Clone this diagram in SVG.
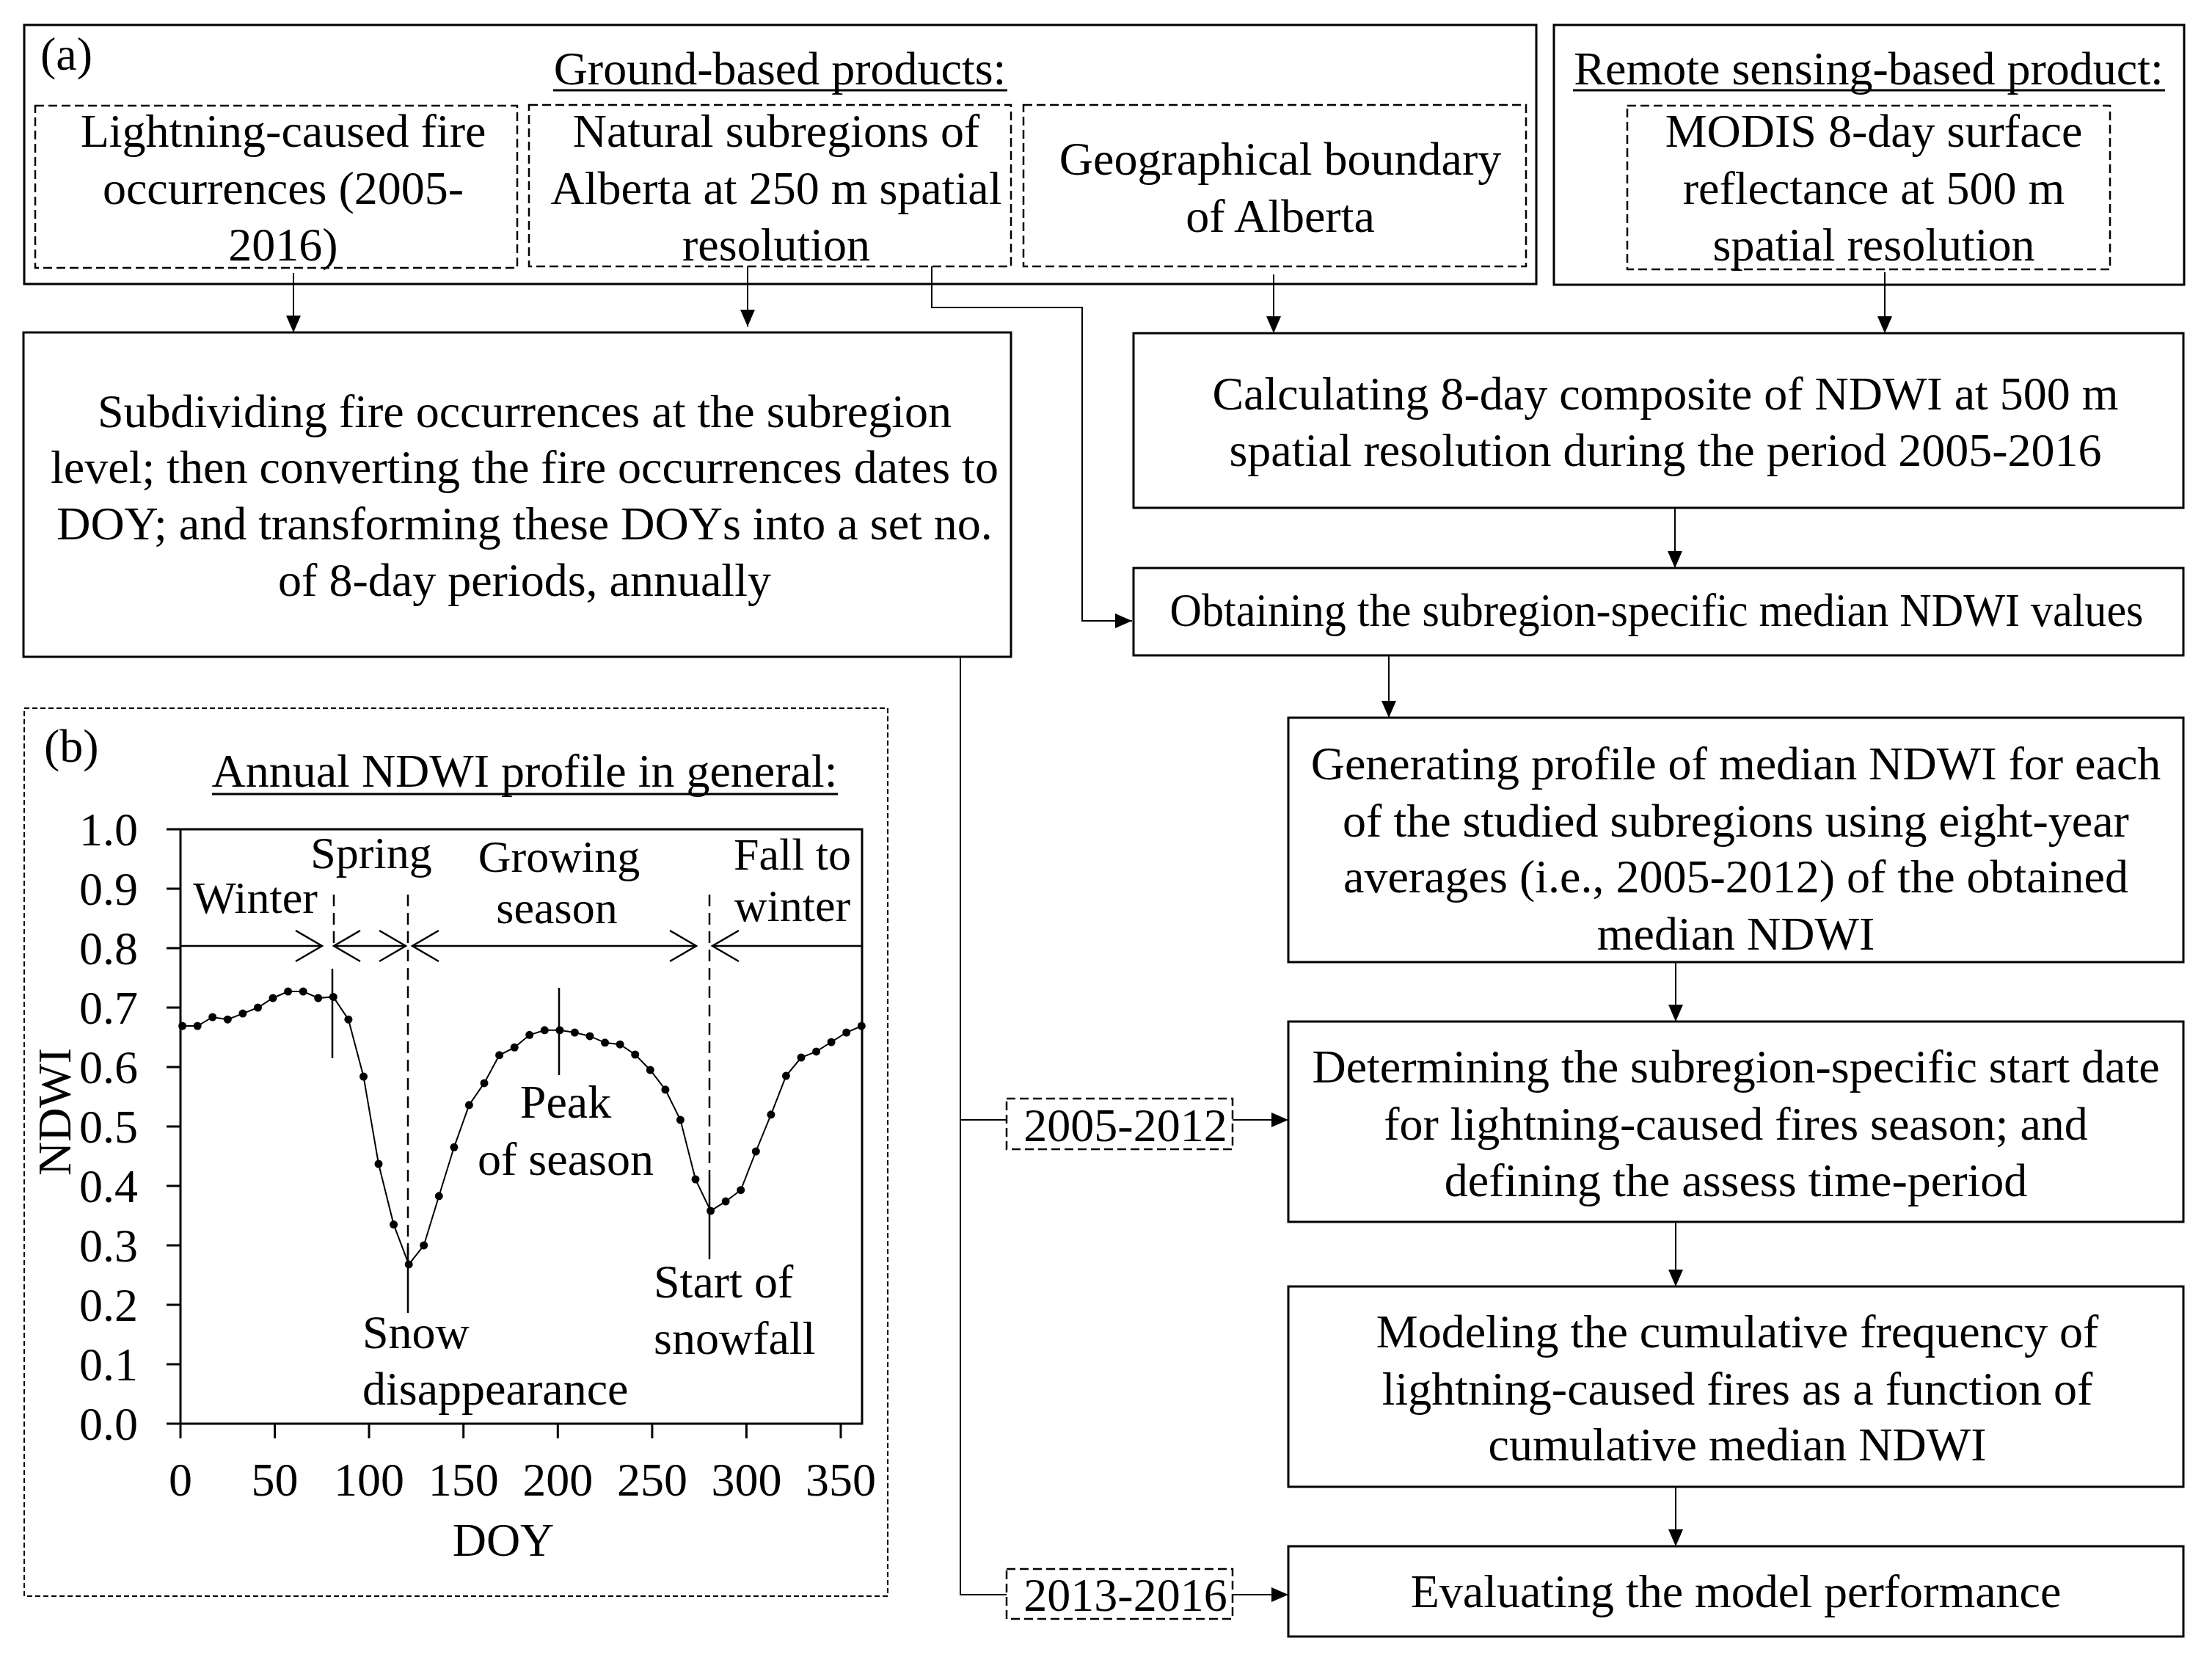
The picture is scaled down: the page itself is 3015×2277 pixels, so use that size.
<svg xmlns="http://www.w3.org/2000/svg" width="3015" height="2277" viewBox="0 0 3015 2277">
<style>
.box{fill:none;stroke:#000;stroke-width:3}
.dbox{fill:none;stroke:#000;stroke-width:2.5;stroke-dasharray:12 6}
.dbox2{fill:none;stroke:#000;stroke-width:2;stroke-dasharray:7 4}
.t{font-family:"Liberation Serif","Times New Roman",serif;font-size:64px;fill:#000}
.s{font-family:"Liberation Serif","Times New Roman",serif;font-size:62px;fill:#000}
.c{text-anchor:middle}
.e{text-anchor:end}
.conn{fill:none;stroke:#000;stroke-width:2}
.ul{stroke:#000;stroke-width:3}
.ax{fill:none;stroke:#000;stroke-width:3}
.mk{stroke:#000;stroke-width:2.5}
.dv{stroke:#000;stroke-width:2.5;stroke-dasharray:16 9}
.ch{fill:none;stroke:#000;stroke-width:2.5}
</style>
<defs>
<marker id="ah" markerUnits="userSpaceOnUse" viewBox="0 0 23 20" refX="23" refY="10" markerWidth="23" markerHeight="20" orient="auto">
<path d="M0,0 L23,10 L0,20 z" fill="#000"/>
</marker>
</defs>
<rect x="0" y="0" width="3015" height="2277" fill="#fff"/>

<g id="ground-products">
<rect class="box" x="33" y="34" width="2061" height="353"/>
<text class="t" x="55" y="95">(a)</text>
<text class="t c" x="1063" y="115">Ground-based products:</text>
<line class="ul" x1="754" y1="123" x2="1373" y2="123"/>
</g>
<g id="lightning-fires">
<rect class="dbox" x="48" y="144" width="657" height="221"/>
<text class="t c" x="386" y="200">Lightning-caused fire</text>
<text class="t c" x="386" y="278">occurrences (2005-</text>
<text class="t c" x="386" y="355">2016)</text>
</g>
<g id="natural-subregions">
<rect class="dbox" x="721" y="143" width="657" height="220"/>
<text class="t c" x="1058" y="200">Natural subregions of</text>
<text class="t c" x="1058" y="278">Alberta at 250 m spatial</text>
<text class="t c" x="1058" y="355">resolution</text>
</g>
<g id="geo-boundary">
<rect class="dbox" x="1395" y="143" width="685" height="220"/>
<text class="t c" x="1745" y="238">Geographical boundary</text>
<text class="t c" x="1745" y="316">of Alberta</text>
</g>
<g id="remote-product">
<rect class="box" x="2118" y="34" width="859" height="354"/>
<text class="t c" x="2547" y="115">Remote sensing-based product:</text>
<line class="ul" x1="2144" y1="123" x2="2951" y2="123"/>
</g>
<g id="modis">
<rect class="dbox" x="2218" y="144" width="658" height="223"/>
<text class="t c" x="2554" y="200">MODIS 8-day surface</text>
<text class="t c" x="2554" y="278">reflectance at 500 m</text>
<text class="t c" x="2554" y="355">spatial resolution</text>
</g>
<g id="subdividing">
<rect class="box" x="32" y="453" width="1346" height="442"/>
<text class="t c" x="715" y="582">Subdividing fire occurrences at the subregion</text>
<text class="t c" x="715" y="658">level; then converting the fire occurrences dates to</text>
<text class="t c" x="715" y="735">DOY; and transforming these DOYs into a set no.</text>
<text class="t c" x="715" y="812">of 8-day periods, annually</text>
</g>
<g id="calculating">
<rect class="box" x="1545" y="454" width="1431" height="238"/>
<text class="t c" x="2270" y="558">Calculating 8-day composite of NDWI at 500 m</text>
<text class="t c" x="2270" y="635">spatial resolution during the period 2005-2016</text>
</g>
<g id="obtaining">
<rect class="box" x="1545" y="774" width="1431" height="119"/>
<text class="t c" x="2258" y="853" textLength="1327" lengthAdjust="spacingAndGlyphs">Obtaining the subregion-specific median NDWI values</text>
</g>
<g id="generating">
<rect class="box" x="1756" y="978" width="1220" height="333"/>
<text class="t c" x="2366" y="1062">Generating profile of median NDWI for each</text>
<text class="t c" x="2366" y="1140">of the studied subregions using eight-year</text>
<text class="t c" x="2366" y="1216">averages (i.e., 2005-2012) of the obtained</text>
<text class="t c" x="2366" y="1294">median NDWI</text>
</g>
<g id="determining">
<rect class="box" x="1756" y="1392" width="1220" height="273"/>
<text class="t c" x="2366" y="1475">Determining the subregion-specific start date</text>
<text class="t c" x="2366" y="1553">for lightning-caused fires season; and</text>
<text class="t c" x="2366" y="1630">defining the assess time-period</text>
</g>
<g id="modeling">
<rect class="box" x="1756" y="1753" width="1220" height="273"/>
<text class="t c" x="2368" y="1836">Modeling the cumulative frequency of</text>
<text class="t c" x="2368" y="1914">lightning-caused fires as a function of</text>
<text class="t c" x="2368" y="1990">cumulative median NDWI</text>
</g>
<g id="evaluating">
<rect class="box" x="1756" y="2107" width="1220" height="123"/>
<text class="t c" x="2366" y="2190">Evaluating the model performance</text>
</g>
<g id="period-2005-2012">
<rect class="dbox" x="1372" y="1497" width="308" height="69"/>
<text class="t c" x="1534" y="1555">2005-2012</text>
</g>
<g id="period-2013-2016">
<rect class="dbox" x="1372" y="2138" width="308" height="68"/>
<text class="t c" x="1534" y="2195">2013-2016</text>
</g>

<g id="connectors">
<line class="conn" x1="400" y1="372" x2="400" y2="453" marker-end="url(#ah)"/>
<line class="conn" x1="1019" y1="363" x2="1019" y2="445" marker-end="url(#ah)"/>
<path class="conn" d="M1270,363 V419 H1475 V846 H1543" marker-end="url(#ah)"/>
<line class="conn" x1="1736" y1="374" x2="1736" y2="454" marker-end="url(#ah)"/>
<line class="conn" x1="2569" y1="371" x2="2569" y2="454" marker-end="url(#ah)"/>
<line class="conn" x1="2283" y1="692" x2="2283" y2="774" marker-end="url(#ah)"/>
<line class="conn" x1="1893" y1="893" x2="1893" y2="978" marker-end="url(#ah)"/>
<path class="conn" d="M1309,895 V2173 H1372"/>
<path class="conn" d="M1309,1526 H1372"/>
<line class="conn" x1="1680" y1="1526" x2="1756" y2="1526" marker-end="url(#ah)"/>
<line class="conn" x1="1680" y1="2173" x2="1756" y2="2173" marker-end="url(#ah)"/>
<line class="conn" x1="2284" y1="1311" x2="2284" y2="1392" marker-end="url(#ah)"/>
<line class="conn" x1="2284" y1="1665" x2="2284" y2="1753" marker-end="url(#ah)"/>
<line class="conn" x1="2284" y1="2026" x2="2284" y2="2107" marker-end="url(#ah)"/>
</g>

<g id="panel-b">
<rect class="dbox2" x="33" y="965" width="1177" height="1210"/>
<text class="t" x="60" y="1038">(b)</text>
<text class="t c" x="715" y="1072">Annual NDWI profile in general:</text>
<line class="ul" x1="289" y1="1082" x2="1142" y2="1082"/>
<g id="axes">
<path class="ax" d="M227,1130 H1175 V1940 H227 M246,1130 V1960"/>
<path class="ax" d="M227,1211 H246 M227,1292 H246 M227,1373 H246 M227,1454 H246 M227,1535 H246 M227,1616 H246 M227,1697 H246 M227,1778 H246 M227,1859 H246"/>
<path class="ax" d="M374.6,1940 V1960 M503,1940 V1960 M631.7,1940 V1960 M760.3,1940 V1960 M888.9,1940 V1960 M1017.4,1940 V1960 M1146,1940 V1960"/>
<text class="t e" x="188" y="1152">1.0</text>
<text class="t e" x="188" y="1233">0.9</text>
<text class="t e" x="188" y="1314">0.8</text>
<text class="t e" x="188" y="1395">0.7</text>
<text class="t e" x="188" y="1476">0.6</text>
<text class="t e" x="188" y="1557">0.5</text>
<text class="t e" x="188" y="1638">0.4</text>
<text class="t e" x="188" y="1719">0.3</text>
<text class="t e" x="188" y="1800">0.2</text>
<text class="t e" x="188" y="1881">0.1</text>
<text class="t e" x="188" y="1962">0.0</text>
<text class="t c" x="246" y="2038">0</text>
<text class="t c" x="374.6" y="2038">50</text>
<text class="t c" x="503" y="2038">100</text>
<text class="t c" x="631.7" y="2038">150</text>
<text class="t c" x="760.3" y="2038">200</text>
<text class="t c" x="888.9" y="2038">250</text>
<text class="t c" x="1017.4" y="2038">300</text>
<text class="t c" x="1146" y="2038">350</text>
<text class="t c" x="686" y="2120">DOY</text>
<text class="t c" transform="translate(96,1515) rotate(-90)">NDWI</text>
</g>
<g id="season-arrows">
<line class="ch" x1="246" y1="1289" x2="439" y2="1289"/>
<polyline class="ch" points="403,1268 439,1289 403,1310"/>
<line class="ch" x1="455" y1="1289" x2="553" y2="1289"/>
<polyline class="ch" points="491,1268 455,1289 491,1310"/>
<polyline class="ch" points="517,1268 553,1289 517,1310"/>
<line class="ch" x1="562" y1="1289" x2="949" y2="1289"/>
<polyline class="ch" points="598,1268 562,1289 598,1310"/>
<polyline class="ch" points="913,1268 949,1289 913,1310"/>
<line class="ch" x1="971" y1="1289" x2="1175" y2="1289"/>
<polyline class="ch" points="1007,1268 971,1289 1007,1310"/>
<line class="dv" x1="455" y1="1219" x2="455" y2="1289"/>
<line class="dv" x1="556" y1="1219" x2="556" y2="1712"/>
<line class="dv" x1="967" y1="1219" x2="967" y2="1612"/>
<line class="mk" x1="453" y1="1320" x2="453" y2="1442"/>
<line class="mk" x1="556" y1="1700" x2="556" y2="1789"/>
<line class="mk" x1="967" y1="1610" x2="967" y2="1716"/>
<line class="mk" x1="762" y1="1346" x2="762" y2="1465"/>
</g>
<g id="season-labels">
<text class="s c" x="348" y="1244">Winter</text>
<text class="s c" x="506" y="1183">Spring</text>
<text class="s c" x="762" y="1188">Growing</text>
<text class="s c" x="759" y="1258">season</text>
<text class="s c" x="1080" y="1185">Fall to</text>
<text class="s c" x="1080" y="1255">winter</text>
<text class="t c" x="771" y="1523">Peak</text>
<text class="t c" x="771" y="1601">of season</text>
<text class="t" x="494" y="1837">Snow</text>
<text class="t" x="494" y="1914">disappearance</text>
<text class="t" x="891" y="1768">Start of</text>
<text class="t" x="891" y="1845">snowfall</text>
</g>
<g id="ndwi-curve">
<polyline fill="none" stroke="#000" stroke-width="2" points="248.6,1398.1 269.2,1398.1 289.7,1386 310.3,1389.2 330.9,1381.1 351.5,1373 372,1360 392.6,1351.1 413.2,1351.1 433.7,1360 454.3,1358.4 474.9,1389.2 495.5,1467 516,1586 536.6,1668.6 557.2,1722.9 577.7,1697 598.3,1629.8 618.9,1563.3 639.4,1505.8 660,1475.9 680.6,1437.8 701.2,1427.3 721.7,1410.3 742.3,1403.8 762.9,1403.8 783.4,1407 804,1411.9 824.6,1420.8 845.1,1423.2 865.7,1437 886.3,1458 906.9,1484.8 927.4,1526.1 948,1607.1 968.6,1650 989.1,1637.1 1009.7,1621.7 1030.3,1569 1050.9,1518.8 1071.4,1466.1 1092,1441 1112.6,1432.9 1133.1,1420 1153.7,1407 1174.3,1398.1"/>
<g fill="#000">
<circle cx="248.6" cy="1398.1" r="5.5"/><circle cx="269.2" cy="1398.1" r="5.5"/><circle cx="289.7" cy="1386" r="5.5"/><circle cx="310.3" cy="1389.2" r="5.5"/><circle cx="330.9" cy="1381.1" r="5.5"/><circle cx="351.5" cy="1373" r="5.5"/><circle cx="372" cy="1360" r="5.5"/><circle cx="392.6" cy="1351.1" r="5.5"/><circle cx="413.2" cy="1351.1" r="5.5"/><circle cx="433.7" cy="1360" r="5.5"/><circle cx="454.3" cy="1358.4" r="5.5"/><circle cx="474.9" cy="1389.2" r="5.5"/><circle cx="495.5" cy="1467" r="5.5"/><circle cx="516" cy="1586" r="5.5"/><circle cx="536.6" cy="1668.6" r="5.5"/><circle cx="557.2" cy="1722.9" r="5.5"/><circle cx="577.7" cy="1697" r="5.5"/><circle cx="598.3" cy="1629.8" r="5.5"/><circle cx="618.9" cy="1563.3" r="5.5"/><circle cx="639.4" cy="1505.8" r="5.5"/><circle cx="660" cy="1475.9" r="5.5"/><circle cx="680.6" cy="1437.8" r="5.5"/><circle cx="701.2" cy="1427.3" r="5.5"/><circle cx="721.7" cy="1410.3" r="5.5"/><circle cx="742.3" cy="1403.8" r="5.5"/><circle cx="762.9" cy="1403.8" r="5.5"/><circle cx="783.4" cy="1407" r="5.5"/><circle cx="804" cy="1411.9" r="5.5"/><circle cx="824.6" cy="1420.8" r="5.5"/><circle cx="845.1" cy="1423.2" r="5.5"/><circle cx="865.7" cy="1437" r="5.5"/><circle cx="886.3" cy="1458" r="5.5"/><circle cx="906.9" cy="1484.8" r="5.5"/><circle cx="927.4" cy="1526.1" r="5.5"/><circle cx="948" cy="1607.1" r="5.5"/><circle cx="968.6" cy="1650" r="5.5"/><circle cx="989.1" cy="1637.1" r="5.5"/><circle cx="1009.7" cy="1621.7" r="5.5"/><circle cx="1030.3" cy="1569" r="5.5"/><circle cx="1050.9" cy="1518.8" r="5.5"/><circle cx="1071.4" cy="1466.1" r="5.5"/><circle cx="1092" cy="1441" r="5.5"/><circle cx="1112.6" cy="1432.9" r="5.5"/><circle cx="1133.1" cy="1420" r="5.5"/><circle cx="1153.7" cy="1407" r="5.5"/><circle cx="1174.3" cy="1398.1" r="5.5"/>
</g>
</g>
</g>
</svg>
